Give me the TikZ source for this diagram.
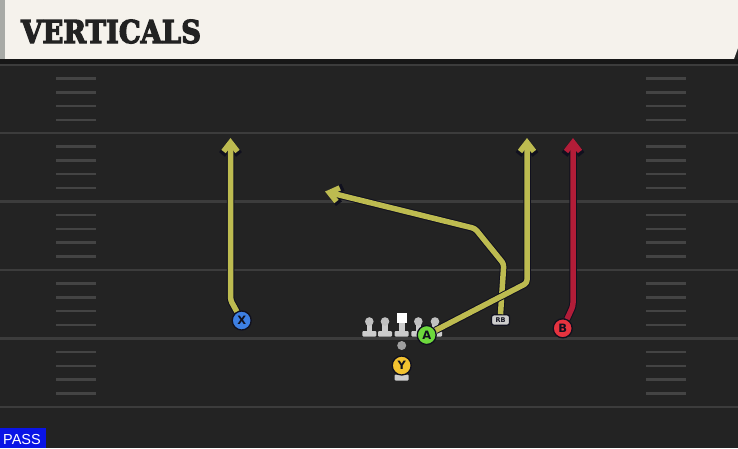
\documentclass[tikz,border=0pt]{standalone}
\usepackage{fontspec}
\setsansfont{DejaVu Sans}
\newfontfamily\titlefont{DejaVu Serif}[BoldFeatures={FakeBold=4}]
\newfontfamily\passfont{Liberation Sans}
\usetikzlibrary{arrows.meta}
\definecolor{hdr}{HTML}{F5F2EC}
\definecolor{hdrbar}{HTML}{A8AAA6}
\definecolor{field}{HTML}{232323}
\definecolor{band}{HTML}{171717}
\definecolor{yardc}{HTML}{3C3C3C}
\definecolor{hashc}{HTML}{444444}
\definecolor{outl}{HTML}{10101E}
\definecolor{yel}{HTML}{BDBB50}
\definecolor{redr}{HTML}{B21D38}
\definecolor{xblue}{HTML}{3D7FE3}
\definecolor{agreen}{HTML}{6DD83C}
\definecolor{bred}{HTML}{E6333F}
\definecolor{yyel}{HTML}{F2C230}
\definecolor{lgray}{HTML}{CCCCCC}
\definecolor{passblue}{HTML}{0A14E6}
\definecolor{titlec}{HTML}{222222}
\tikzset{
  yard/.style={draw=yardc, line width=2.5pt},
  hashm/.style={draw=hashc, line width=2.5pt},
  player/.style={circle, minimum size=19pt, inner sep=0pt, draw=outl, line width=1.3pt,
    font=\sffamily\bfseries\fontsize{11.5}{11.5}\selectfont, text=outl},
  routeout/.style={draw=outl, line width=7.5pt, line join=round, rounded corners=3pt,
    -{Straight Barb[length=10.5pt,width=17pt]}},
  routein/.style={line width=5.5pt, line join=round, rounded corners=3pt,
    -{Straight Barb[length=9pt,width=14pt]}},
  lineman/.pic={
    \fill[lgray, rounded corners=1pt] (-7,9.5) rectangle (7,15);
    \fill[lgray] (-2.8,0) rectangle (2.8,10);
    \fill[lgray!85!gray] (0,0) circle (4.3);
  }
}
\begin{document}
\begin{tikzpicture}[x=1pt,y=-1pt]
\useasboundingbox (0,0) rectangle (738,448);
\fill[field] (0,0) rectangle (738,448);
% header
\fill[hdr] (0,0) -- (738,0) -- (738,48) -- (734,59) -- (0,59) -- cycle;
\fill[hdrbar] (0,0) rectangle (5,59);
\fill[band] (0,59) rectangle (738,64);
\node[anchor=base west, inner sep=0pt, text=titlec] (title) at (21,43)
  {\scalebox{0.87}[1]{\titlefont\bfseries\fontsize{31.5}{32}\selectfont VERTICALS}};
% yard lines and hashes
\foreach \yy in {65,133,201.5,270,338.5,407}
  \draw[yard] (0,\yy) -- (738,\yy);
\foreach \yy in {65,133,201.5,270,338.5}
  \foreach \k in {1,...,4} {
    \draw[hashm] (56,{\yy+\k*13.7}) -- (96,{\yy+\k*13.7});
    \draw[hashm] (646,{\yy+\k*13.7}) -- (686,{\yy+\k*13.7});
  }
% offensive line
\pic at (369.3,321.5) {lineman};
\pic at (385,321.5) {lineman};
\pic at (418.3,321.5) {lineman};
\pic at (435,321.5) {lineman};
\fill[lgray, rounded corners=1pt] (394.7,331) rectangle (408.7,336.5);
\fill[lgray] (398.9,322) rectangle (404.5,331.5);
\fill[white] (396.7,312.5) rectangle (406.7,323);
% QB dot
\node[circle, fill=gray!75, minimum size=9pt, inner sep=0pt] (qb) at (401.7,345.5) {};
% Y base
\fill[lgray, rounded corners=1pt] (394.7,374.5) rectangle (408.7,380.5);
% players
\node[player, fill=xblue] (X) at (241.7,320.5) {X};
\node[player, fill=agreen] (A) at (426.7,335) {A};
\node[player, fill=bred] (B) at (562.7,328.3) {B};
\node[player, fill=yyel] (Y) at (401.7,365.5) {Y};
\node[draw=outl, fill=lgray, rounded corners=2.5pt, minimum width=18pt, minimum height=10.5pt,
  inner sep=0pt, line width=1.2pt, font=\sffamily\bfseries\fontsize{6.5}{6.5}\selectfont, text=outl] (RB) at (500.5,320) {RB};
% route waypoints
\coordinate (xb) at (230.5,300);
\coordinate (xe) at (230.5,138);
\coordinate (ab) at (527,283);
\coordinate (ae) at (527,138);
\coordinate (r1) at (503.8,264);
\coordinate (r2) at (475,228.5);
\coordinate (re) at (325,191.5);
\coordinate (bb) at (573,306);
\coordinate (be) at (573,138);
% routes
\draw[routeout] (RB.north) -- (r1) -- (r2) -- (re);
\draw[routein, draw=yel] (RB.north) -- (r1) -- (r2) -- (re);
\draw[routeout] (A) -- (ab) -- (ae);
\draw[routein, draw=yel] (A) -- (ab) -- (ae);
\draw[routeout] (X) -- (xb) -- (xe);
\draw[routein, draw=yel] (X) -- (xb) -- (xe);
\draw[routeout] (B) -- (bb) -- (be);
\draw[routein, draw=redr] (B) -- (bb) -- (be);
% pass label
\fill[passblue] (0,428) rectangle (45.5,448);
\node[anchor=base west, inner sep=0pt, text=white, font=\passfont\fontsize{14.5}{15}\selectfont] (pass) at (3,444) {PASS};
\end{tikzpicture}
\end{document}
